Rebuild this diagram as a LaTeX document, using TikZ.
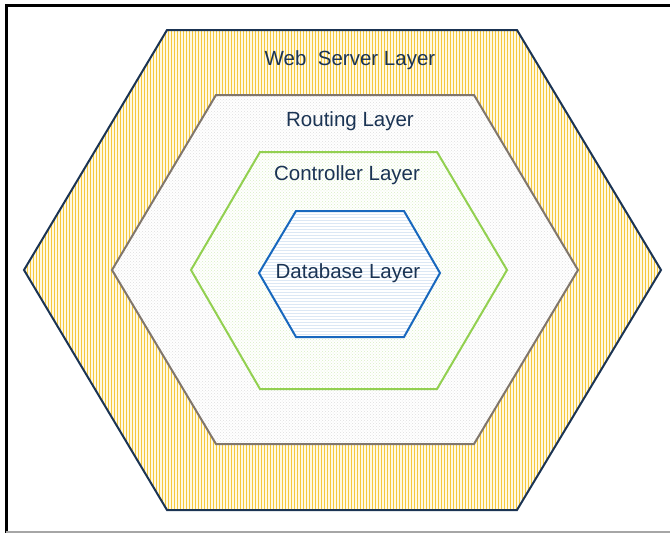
\documentclass[tikz,border=0pt]{standalone}
\usepackage{fontspec}
\setmainfont{Liberation Sans}
\usetikzlibrary{patterns}
\definecolor{ink}{RGB}{27,52,84}
\definecolor{webln}{RGB}{245,200,60}
\definecolor{webbg}{RGB}{255,249,225}
\definecolor{routeln}{RGB}{128,118,108}
\definecolor{ctrlln}{RGB}{146,208,80}
\definecolor{dbln}{RGB}{24,104,190}

\begin{document}
\begin{tikzpicture}[x=1pt,y=-1pt,font=\fontsize{20.5}{24}\selectfont,
  hx/.style={line width=2pt,line join=miter},
  lab/.style={text=ink,inner sep=1pt}]
\useasboundingbox (0,0) rectangle (670,533);
% frame
\draw[line width=3pt] (670,5) -- (6,5) -- (6,533);
\draw[gray!70,line width=1.5pt] (6,532) -- (670,532);
% layers, outer to inner
\draw[hx,ink,preaction={fill=webbg},pattern=vertical lines,pattern color=webln]
  (167,30) -- (517,30) -- (661,270) -- (517,510) -- (167,510) -- (24,270) -- cycle;
\draw[hx,routeln,preaction={fill=white},pattern=crosshatch dots,pattern color=gray!25]
  (216,95) -- (474,95) -- (578,270) -- (474,444) -- (216,444) -- (112,270) -- cycle;
\draw[hx,ctrlln,preaction={fill=white},pattern=crosshatch dots,pattern color=ctrlln!35]
  (260,152) -- (437,152) -- (507,270) -- (437,389) -- (260,389) -- (191,270) -- cycle;
\draw[hx,dbln,preaction={fill=white},pattern=horizontal lines,pattern color=dbln!15]
  (296,211) -- (404,211) -- (440,273) -- (404,337) -- (296,337) -- (259,273) -- cycle;
% labels
\node[lab] (web) at (350,60) {Web\ \ Server Layer};
\node[lab] (route) at (350,121) {Routing Layer};
\node[lab] (ctrl) at (347,175) {Controller Layer};
\node[lab] (db) at (348,273) {Database Layer};
\end{tikzpicture}
\end{document}
